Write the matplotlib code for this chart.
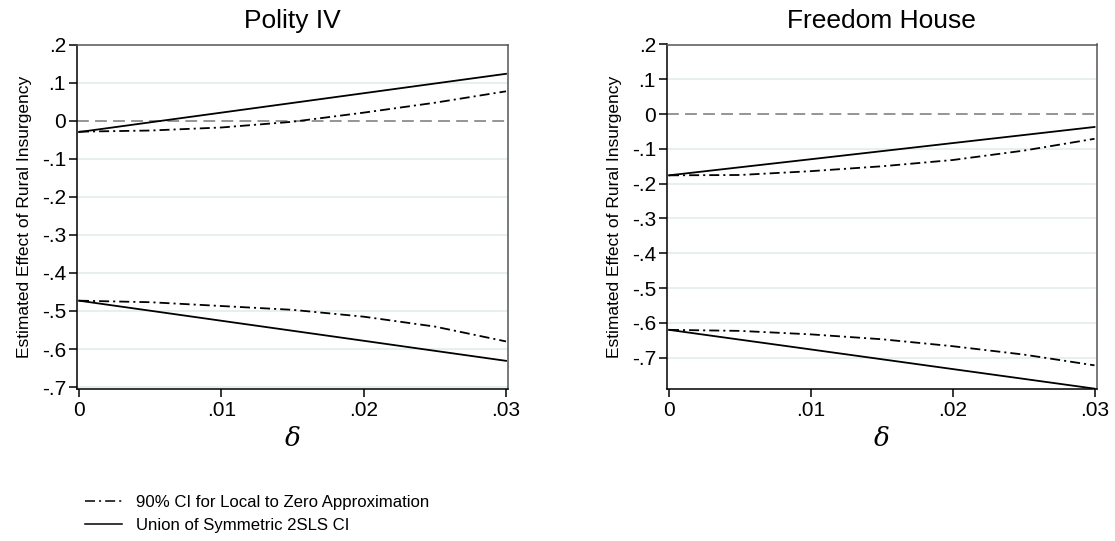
import matplotlib
matplotlib.use("Agg")
import matplotlib.pyplot as plt
from matplotlib.lines import Line2D
import numpy as np

plt.rcParams['font.family'] = ['Liberation Sans', 'DejaVu Sans']
plt.rcParams['lines.scale_dashes'] = False
plt.rcParams['mathtext.fontset'] = 'dejavuserif'

# ---- data ----
delta = [0.0, 0.005, 0.01, 0.015, 0.02, 0.025, 0.03]

# Polity IV
polity_lz_upper = [-0.029, -0.026, -0.018, -0.003, 0.021, 0.047, 0.077]
polity_lz_lower = [-0.473, -0.477, -0.487, -0.497, -0.515, -0.541, -0.580]
polity_union_upper = [-0.030, -0.0045, 0.021, 0.0465, 0.072, 0.0975, 0.123]
polity_union_lower = [-0.473, -0.4993, -0.5257, -0.552, -0.5783, -0.6047, -0.631]

# Freedom House
fh_lz_upper = [-0.176, -0.175, -0.164, -0.150, -0.132, -0.105, -0.071]
fh_lz_lower = [-0.620, -0.623, -0.633, -0.647, -0.667, -0.691, -0.722]
fh_union_upper = [-0.176, -0.1528, -0.1297, -0.1065, -0.0833, -0.0602, -0.037]
fh_union_lower = [-0.620, -0.6482, -0.6763, -0.7045, -0.7327, -0.7608, -0.789]

titles = ["Polity IV", "Freedom House"]
xticks = [0, 0.01, 0.02, 0.03]
xticklabels = ["0", ".01", ".02", ".03"]
yticks = [0.2, 0.1, 0, -0.1, -0.2, -0.3, -0.4, -0.5, -0.6, -0.7]
yticklabels = [".2", ".1", "0", "-.1", "-.2", "-.3", "-.4", "-.5", "-.6", "-.7"]
ylims = [(-0.705, 0.2), (-0.79, 0.2)]
legend_labels = ["90% CI for Local to Zero Approximation", "Union of Symmetric 2SLS CI"]
ylabel = "Estimated Effect of Rural Insurgency"

fig = plt.figure(figsize=(11.15, 5.41), dpi=100)
ax_pos = [[77/1115, 1-389/541, 431/1115, 344.5/541],
          [667/1115, 1-389/541, 429.5/1115, 344.5/541]]

dashdot = (0, (7.2, 2.9, 1.5, 2.9))
grid_color = "#e6eef0"

series = [
    (polity_lz_upper, polity_lz_lower, polity_union_upper, polity_union_lower),
    (fh_lz_upper, fh_lz_lower, fh_union_upper, fh_union_lower),
]

for i in range(2):
    ax = fig.add_axes(ax_pos[i])
    lzu, lzl, uu, ul = series[i]
    ax.set_xlim(-0.00014, 0.03014)
    ax.set_ylim(*ylims[i])
    # gridlines
    for t in yticks:
        if t == 0:
            continue
        if ylims[i][0] < t < ylims[i][1] - 1e-9:
            ax.axhline(t, color=grid_color, lw=1.3, zorder=0)
    ax.axhline(0, color="#8c8c8c", lw=1.3, linestyle=(0, (8.5, 4.5)), zorder=1)
    ax.plot(delta, lzu, color="black", lw=1.3, linestyle=dashdot, zorder=3)
    ax.plot(delta, lzl, color="black", lw=1.3, linestyle=dashdot, zorder=3)
    ax.plot(delta, uu, color="black", lw=1.3, zorder=3)
    ax.plot(delta, ul, color="black", lw=1.3, zorder=3)

    ax.set_xticks(xticks)
    ax.set_xticklabels(xticklabels)
    yt = [t for t in yticks if ylims[i][0] - 1e-9 <= t <= ylims[i][1] + 1e-9]
    ax.set_yticks(yt)
    ax.set_yticklabels([yticklabels[yticks.index(t)] for t in yt])
    ax.tick_params(axis='both', direction='out', length=6, width=1.1,
                   labelsize=15, color="black", pad=2)
    ax.tick_params(axis='x', pad=3)
    for s in ["left", "bottom"]:
        ax.spines[s].set_color("black")
        ax.spines[s].set_linewidth(1.1)
    for s in ["top", "right"]:
        ax.spines[s].set_color("#555555")
        ax.spines[s].set_linewidth(1.1)
    ax.set_title(titles[i], fontsize=19, pad=12)
    ax.set_ylabel(ylabel, fontsize=12.5, labelpad=7)
    ax.set_xlabel(r"$\delta$", fontsize=19, labelpad=5)

handles = [Line2D([], [], color="black", lw=1.1, linestyle=dashdot),
           Line2D([], [], color="black", lw=1.1)]
fig.legend(handles, legend_labels, loc="upper left",
           bbox_to_anchor=(78/1115, 1-488/541), frameon=False,
           fontsize=12.1, handlelength=2.2, handletextpad=0.85,
           labelspacing=0.5, borderaxespad=0)

fig.savefig("out.png", dpi=100)
